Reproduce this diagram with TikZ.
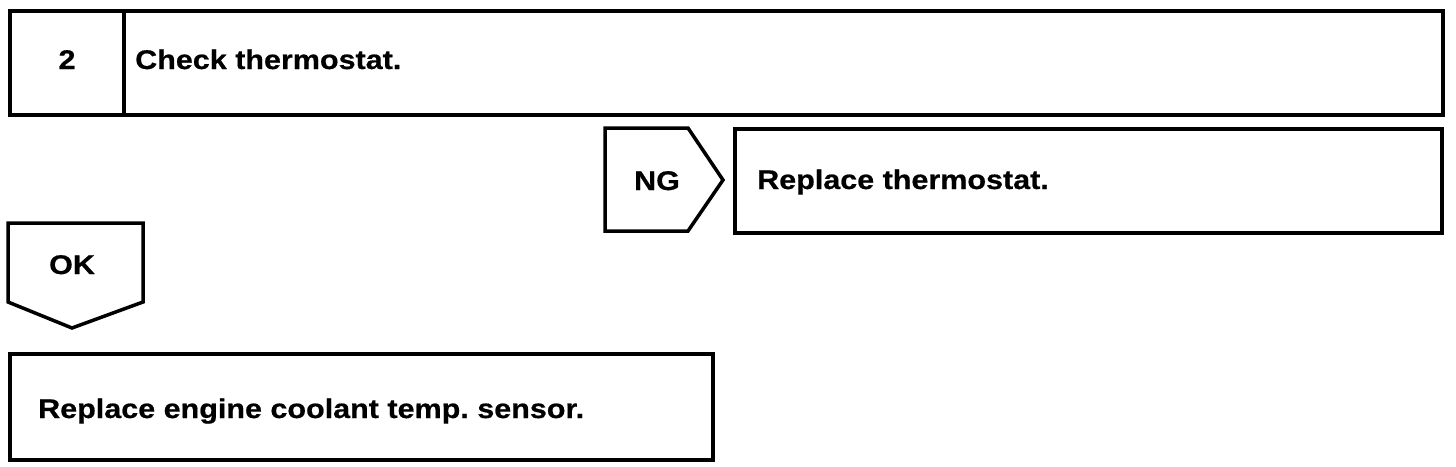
\documentclass[tikz,border=0pt]{standalone}
\usepackage{fontspec}
\setmainfont{Liberation Sans}[FakeStretch=1.13, BoldFeatures={FakeBold=0.6}]
\usepackage{tikz}
\usetikzlibrary{positioning}
\tikzset{
  box/.style={rectangle, draw=black, line width=3.5pt, anchor=north west,
    inner sep=0pt},
  tag/.style={draw=black, line width=3.5pt, line join=miter},
  lbl/.style={font=\fontsize{27}{32}\selectfont\bfseries, inner sep=0pt}
}
\begin{document}
\begin{tikzpicture}[x=1pt, y=-1pt]
  \useasboundingbox (0,0) rectangle (1456,466);

  % Step header
  \node[box, minimum width=114pt, minimum height=104pt] (stepno) at (8,9) {};
  \node[box, minimum width=1319pt, minimum height=104pt] (steptitle) at (122,9) {};
  \node[lbl, anchor=base] (stepnum) at (67,69) {2};
  \node[lbl, anchor=base west] (steptext) at (135,69) {Check thermostat.};

  % NG branch
  \draw[tag] (605,128) coordinate (ngA) -- (688,128) -- (723,180) coordinate (ngtip)
    -- (688,231) -- (605,231) -- cycle;
  \node[lbl, anchor=base] (nglabel) at (657,190) {NG};
  \node[box, minimum width=707pt, minimum height=104pt] (ngbox) at (733,127) {};
  \node[lbl, anchor=base west] (ngtext) at (757,189) {Replace thermostat.};

  % OK branch
  \draw[tag] (8,223) coordinate (okA) -- (143,223) -- (143,302)
    -- (72,328) coordinate (oktip) -- (8,302) -- cycle;
  \node[lbl, anchor=base] (oklabel) at (72,274) {OK};
  \node[box, minimum width=703pt, minimum height=106pt] (okbox) at (8,352) {};
  \node[lbl, anchor=base west] (oktext) at (38,418) {Replace engine coolant temp.\ sensor.};
\end{tikzpicture}
\end{document}
